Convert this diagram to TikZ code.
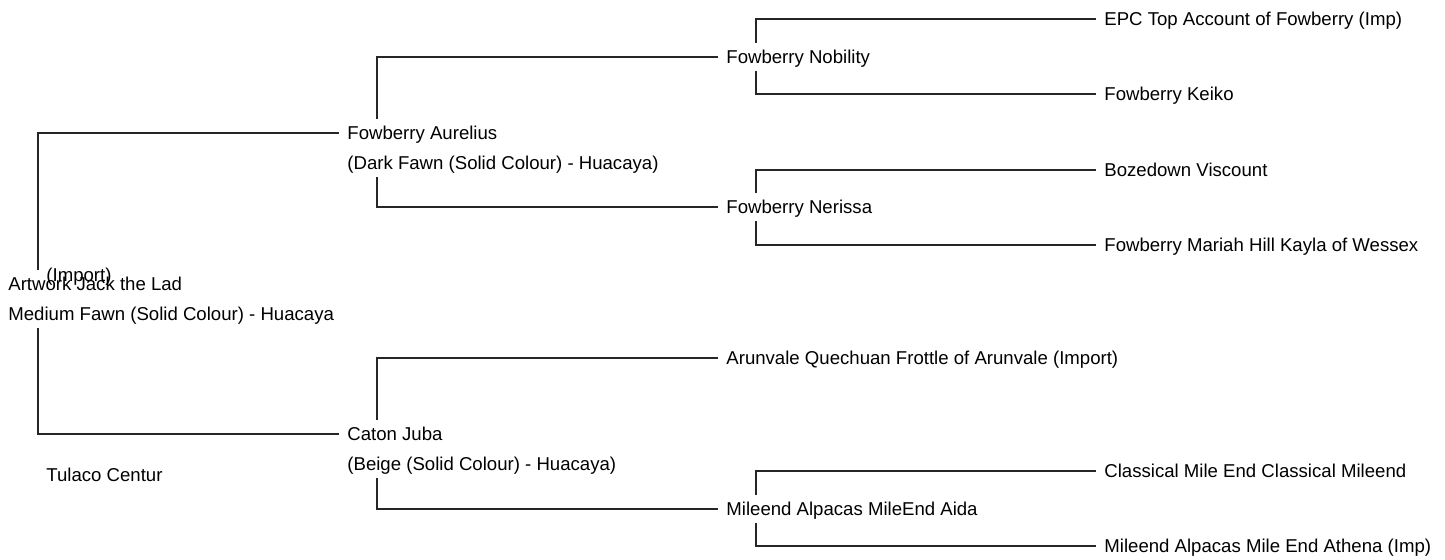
\documentclass[tikz,border=0pt]{standalone}
\usepackage{fontspec}
\setmainfont{Liberation Sans}
\usepackage{tikz}
\usetikzlibrary{positioning}
\tikzstyle{animal} = [anchor=west, inner xsep=4pt, inner ysep=1pt, text height=9.35pt, text depth=2.65pt, font=\fontsize{9.3}{11}\selectfont]
\tikzstyle{link} = [line width=0.7pt, draw=black!85]

\begin{document}
\begin{tikzpicture}[x=0.5pt, y=-0.5pt]
  \useasboundingbox (0,0) rectangle (1445,559);

  \node (root) [animal] at (0,284) {Artwork Jack the Lad};
  \node (rootc) [animal] at (0,314) {Medium Fawn (Solid Colour) - Huacaya};
  \node (import) [animal] at (38,275) {(Import)};
  \node (tulaco) [animal] at (38,475) {Tulaco Centur};

  \node (aurelius) [animal] at (339,133) {Fowberry Aurelius};
  \node (aureliusc) [animal] at (339,163) {(Dark Fawn (Solid Colour) - Huacaya)};
  \node (juba) [animal] at (339,434) {Caton Juba};
  \node (jubac) [animal] at (339,464) {(Beige (Solid Colour) - Huacaya)};

  \node (nobility) [animal] at (718,57) {Fowberry Nobility};
  \node (nerissa) [animal] at (718,207) {Fowberry Nerissa};
  \node (arunvale) [animal] at (718,358) {Arunvale Quechuan Frottle of Arunvale (Import)};
  \node (aida) [animal] at (718,509) {Mileend Alpacas MileEnd Aida};

  \node (epc) [animal] at (1096,19) {EPC Top Account of Fowberry (Imp)};
  \node (keiko) [animal] at (1096,94) {Fowberry Keiko};
  \node (bozedown) [animal] at (1096,170) {Bozedown Viscount};
  \node (mariah) [animal] at (1096,245) {Fowberry Mariah Hill Kayla of Wessex};
  \node (classical) [animal] at (1096,471) {Classical Mile End Classical Mileend};
  \node (athena) [animal] at (1096,546) {Mileend Alpacas Mile End Athena (Imp)};

  \draw [link] ([xshift=19pt]root.north west) |- (aurelius.west);
  \draw [link] ([xshift=19pt]rootc.south west) |- (juba.west);

  \draw [link] ([xshift=19pt]aurelius.north west) |- (nobility.west);
  \draw [link] ([xshift=19pt]aureliusc.south west) |- (nerissa.west);
  \draw [link] ([xshift=19pt]juba.north west) |- (arunvale.west);
  \draw [link] ([xshift=19pt]jubac.south west) |- (aida.west);

  \draw [link] ([xshift=19pt]nobility.north west) |- (epc.west);
  \draw [link] ([xshift=19pt]nobility.south west) |- (keiko.west);
  \draw [link] ([xshift=19pt]nerissa.north west) |- (bozedown.west);
  \draw [link] ([xshift=19pt]nerissa.south west) |- (mariah.west);
  \draw [link] ([xshift=19pt]aida.north west) |- (classical.west);
  \draw [link] ([xshift=19pt]aida.south west) |- (athena.west);
\end{tikzpicture}
\end{document}
